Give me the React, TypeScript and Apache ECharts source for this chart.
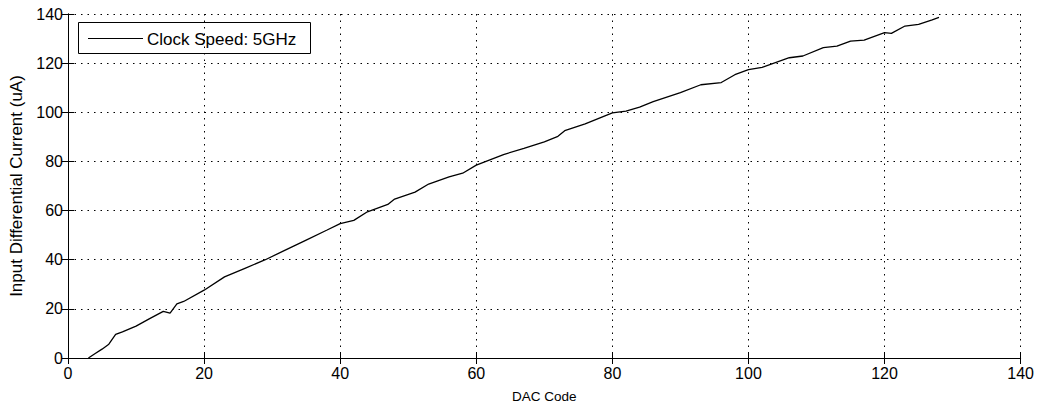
import React, { useEffect, useRef } from "react";
import * as echarts from "echarts";

const seriesName = "Clock Speed: 5GHz";
const dacCodes = [3, 4, 5, 6, 7, 8, 10, 12, 14, 15, 16, 17, 20, 23, 26, 29, 32, 35, 38, 40, 42, 44, 47, 48, 51, 53, 56, 58, 60, 64, 67, 70, 72, 73, 76, 80, 82, 84, 86, 90, 93, 96, 98, 100, 102, 106, 108, 111, 113, 115, 117, 120, 121, 123, 125, 127, 128];
const currents = [0, 1.8, 3.6, 5.6, 9.6, 10.6, 13, 16, 19, 18.3, 22, 23, 27.6, 33, 36.5, 40, 44, 48, 52, 54.7, 56, 59.5, 62.5, 64.7, 67.5, 70.8, 73.7, 75.2, 78.5, 82.8, 85.3, 88, 90.2, 92.5, 95.3, 99.8, 100.5, 102.1, 104.3, 108, 111.2, 112.1, 115.3, 117.4, 118.3, 122.2, 122.9, 126.3, 126.9, 129, 129.4, 132.4, 132.1, 135.1, 135.8, 137.6, 138.6];
const xTicks = [0, 20, 40, 60, 80, 100, 120, 140];
const yTicks = [0, 20, 40, 60, 80, 100, 120, 140];

const FONT = "Liberation Sans, Arial, sans-serif";

export default function App() {
  const ref = useRef<HTMLDivElement>(null);
  useEffect(() => {
    if (!ref.current) return;
    const chart = echarts.init(ref.current, undefined, { renderer: "svg" });
    const data = dacCodes.map((x, i) => [x, currents[i]]);
    const grid = { left: 68, right: 15, top: 14, bottom: 51 };
    const dotted = { color: "#000", width: 1, type: [1.5, 5] as any };
    const tick = { show: true, inside: true, length: 6, lineStyle: { color: "#000", width: 1 } };
    chart.setOption({
      animation: false,
      backgroundColor: "#fff",
      grid,
      graphic: [
        {
          type: "group",
          z: 100,
          children: [
            {
              type: "rect",
              shape: { x: 78.5, y: 22.5, width: 232, height: 31 },
              style: { fill: "#fff", stroke: "#000", lineWidth: 1 },
            },
            {
              type: "line",
              shape: { x1: 88, y1: 38.5, x2: 143, y2: 38.5 },
              style: { stroke: "#000", lineWidth: 1.2 },
            },
            {
              type: "text",
              x: 147,
              y: 39,
              style: {
                text: seriesName,
                fontFamily: FONT,
                fontSize: 17,
                fill: "#000",
                verticalAlign: "middle",
                align: "left",
              },
            },
          ],
        },
      ],
      xAxis: [
        {
          type: "value",
          min: xTicks[0],
          max: xTicks[xTicks.length - 1],
          interval: 20,
          name: "DAC Code",
          nameLocation: "middle",
          nameGap: 31,
          nameTextStyle: { fontFamily: FONT, fontSize: 13.5, color: "#000" },
          axisLine: { show: true, lineStyle: { color: "#000", width: 1 } },
          axisTick: tick,
          axisLabel: { fontFamily: FONT, fontSize: 16, color: "#000", margin: 7 },
          splitLine: { show: true, lineStyle: dotted },
        },
        {
          type: "value",
          position: "top",
          min: xTicks[0],
          max: xTicks[xTicks.length - 1],
          interval: 20,
          axisLine: { show: true, lineStyle: { color: "#000", width: 1 } },
          axisTick: tick,
          axisLabel: { show: false },
          splitLine: { show: false },
        },
      ],
      yAxis: [
        {
          type: "value",
          min: yTicks[0],
          max: yTicks[yTicks.length - 1],
          interval: 20,
          name: "Input Differential Current (uA)",
          nameLocation: "middle",
          nameGap: 34,
          nameTextStyle: { fontFamily: FONT, fontSize: 17, color: "#000" },
          axisLine: { show: true, lineStyle: { color: "#000", width: 1 } },
          axisTick: tick,
          axisLabel: { fontFamily: FONT, fontSize: 16, color: "#000", margin: 5 },
          splitLine: { show: true, lineStyle: dotted },
        },
        {
          type: "value",
          position: "right",
          min: yTicks[0],
          max: yTicks[yTicks.length - 1],
          interval: 20,
          axisLine: { show: true, lineStyle: { color: "#000", width: 1 } },
          axisTick: tick,
          axisLabel: { show: false },
          splitLine: { show: false },
        },
      ],
      series: [
        {
          name: seriesName,
          type: "line",
          xAxisIndex: 0,
          yAxisIndex: 0,
          data,
          symbol: "none",
          showSymbol: false,
          lineStyle: { color: "#000", width: 1.3 },
          itemStyle: { color: "#000" },
        },
      ],
    });
    return () => chart.dispose();
  }, []);
  return <div ref={ref} style={{ width: 1037, height: 409, position: "absolute", left: 0, top: 0 }} />;
}
